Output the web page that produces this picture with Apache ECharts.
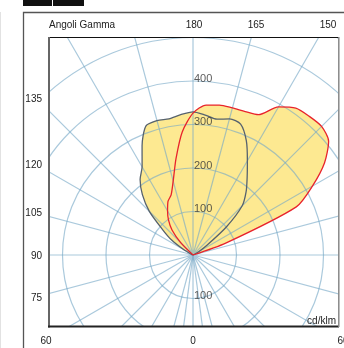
<!DOCTYPE html>
<html><head><meta charset="utf-8">
<script src="https://cdn.jsdelivr.net/npm/echarts@6/dist/echarts.min.js"></script>
<style>html,body{margin:0;padding:0;background:#fff}#c{width:344px;height:348px}</style>
</head><body><div id="c"></div>
<script>
// gamma angles (degrees from nadir)
const gammaAngles = [0,5,10,15,20,25,30,35,40,45,50,55,60,65,70,75,80,85,90,95,100,105,110,115,120,125,130,135,140,145,150,155,160,165,170,175,180];
// intensities cd/klm
const grayRight = [0,0,0,0,0,0,0,0,0,0,0,0,0,0,0,0,0,0,0,0,0,0,0,3,15,40,100,160,190,217,250,290,320,324,317,323,329];
const grayLeft  = [0,0,0,0,0,0,0,0,0,0,0,0,0,0,0,0,0,0,0,0,0,0,0,5,25,60,92,142,181,212,234,277,316,320,318,324,329];
const redRight  = [0,0,0,0,0,0,0,0,0,0,0,0,0,0,0,0,0,0,0,0,0,0,80,262,317,369,407,418,416,412,393,356,351,350,350,346,326];
const redLeft   = [0,0,0,0,0,0,0,0,0,0,0,0,0,0,0,0,0,0,0,0,0,0,0,0,0,0,0,40,75,98,117,136,147,176,225,284,326];
// axis tick labels / grid
const ringValues = [100,200,300,400];
const extraSpokes = [7.5, 352.5];
const topLabels = ['180','165','150'];
const leftLabels = ['135','120','105','90','75'];
const bottomLabels = ['60','0','60'];
const titleText = 'Angoli Gamma';
const unitText = 'cd/klm';

// layout
const CX = 193, CY = 255, R = 261;
const topX = [194, 256, 328], topY = 25;
const leftY = [99, 165, 213, 256, 298], leftX = 42;
const bottomX = [46, 193, 343], bottomY = 341;
const FONT = 'Liberation Sans, Arial, sans-serif';

function poly(right, left) {
  const pts = [];
  for (let i = 0; i < gammaAngles.length; i++) pts.push([right[i], gammaAngles[i]]);
  for (let i = gammaAngles.length - 1; i >= 0; i--) pts.push([left[i], 360 - gammaAngles[i]]);
  return pts;
}
const grayData = poly(grayRight, grayLeft);
const redData = poly(redRight, redLeft);
const ringData = ringValues.map(v => [v, 180]).concat([[100, 0]]);

const gridColor = 'rgba(118,168,198,0.62)';
const fillColor = '#fde991';

const chart = echarts.init(document.getElementById('c'), null, {renderer: 'canvas'});
const texts = [];
texts.push({type:'text', z:120, style:{text:titleText, x:49, y:topY, font:'10px '+FONT, fill:'#222', textVerticalAlign:'middle'}});
topLabels.forEach((t,i)=>texts.push({type:'text', z:120, style:{text:t, x:topX[i], y:topY, font:'10px '+FONT, fill:'#222', textAlign:'center', textVerticalAlign:'middle'}}));
leftLabels.forEach((t,i)=>texts.push({type:'text', z:120, style:{text:t, x:leftX, y:leftY[i], font:'10px '+FONT, fill:'#222', textAlign:'right', textVerticalAlign:'middle'}}));
bottomLabels.forEach((t,i)=>texts.push({type:'text', z:120, style:{text:t, x:bottomX[i], y:bottomY, font:'10px '+FONT, fill:'#222', textAlign:'center', textVerticalAlign:'middle'}}));
texts.push({type:'text', z:120, style:{text:unitText, x:336, y:321, font:'10px '+FONT, fill:'#222', textAlign:'right', textVerticalAlign:'middle'}});

const spokeSeries = extraSpokes.map(a => ({
  type:'line', coordinateSystem:'polar', data:[[0,a],[600,a]], showSymbol:false, z:3, silent:true,
  lineStyle:{color:gridColor, width:1.2}
}));

chart.setOption({
  animation: false,
  backgroundColor: '#fff',
  polar: {center: [CX, CY], radius: R},
  angleAxis: {
    type: 'value', min: 0, max: 360, interval: 15, startAngle: 270, clockwise: false, z: 3,
    axisLine: {show: false}, axisTick: {show: false}, axisLabel: {show: false},
    splitLine: {show: true, lineStyle: {color: gridColor, width: 1.2}}
  },
  radiusAxis: {
    type: 'value', min: 0, max: 600, interval: 100, z: 3,
    axisLine: {show: false}, axisTick: {show: false}, axisLabel: {show: false},
    splitLine: {show: true, lineStyle: {color: gridColor, width: 1.2}}
  },
  series: [
    {type:'line', coordinateSystem:'polar', data: grayData, showSymbol:false, smooth:0.25, z:1,
     lineStyle:{width:0, opacity:0}, areaStyle:{color:fillColor, opacity:1}},
    {type:'line', coordinateSystem:'polar', data: redData, showSymbol:false, smooth:0.25, z:1,
     lineStyle:{width:0, opacity:0}, areaStyle:{color:fillColor, opacity:1}},
    {type:'line', coordinateSystem:'polar', data: grayData, showSymbol:false, smooth:0.25, z:5,
     lineStyle:{width:1.3, color:'#56626e'}},
    {type:'line', coordinateSystem:'polar', data: redData, showSymbol:false, smooth:0.25, z:5,
     lineStyle:{width:1.3, color:'#e8232b'}},
    {type:'scatter', coordinateSystem:'polar', data: ringData, symbolSize:0, z:6,
     label:{show:true, position:[1,3], align:'left', verticalAlign:'bottom', fontSize:11, fontFamily:FONT, color:'#333',
       formatter: p => String(p.value[0])}}
  ].concat(spokeSeries),
  graphic: [
    {type:'rect', z:100, shape:{x:0,y:0,width:344,height:37.5}, style:{fill:'#fff'}},
    {type:'rect', z:100, shape:{x:0,y:0,width:49,height:348}, style:{fill:'#fff'}},
    {type:'rect', z:100, shape:{x:0,y:326,width:344,height:22}, style:{fill:'#fff'}},
    {type:'rect', z:100, shape:{x:338.5,y:0,width:6,height:348}, style:{fill:'#fff'}},
    // inner box
    {type:'line', z:110, shape:{x1:49,y1:37.5,x2:339,y2:37.5}, style:{stroke:'#111', lineWidth:1}},
    {type:'line', z:110, shape:{x1:49,y1:37,x2:49,y2:327.5}, style:{stroke:'#666', lineWidth:2}},
    {type:'line', z:110, shape:{x1:48,y1:326.5,x2:339,y2:326.5}, style:{stroke:'#222', lineWidth:2}},
    {type:'line', z:110, shape:{x1:338.8,y1:37,x2:338.8,y2:327}, style:{stroke:'#888', lineWidth:1.5}},
    // outer frame
    {type:'polyline', z:110, shape:{points:[[23.5,348],[23.5,12.5],[344,12.5]]}, style:{stroke:'#555', lineWidth:1.3, fill:null}},
    {type:'line', z:110, shape:{x1:0.5,y1:12,x2:0.5,y2:348}, style:{stroke:'#e2e2e2', lineWidth:1}},
    // tabs
    {type:'rect', z:110, shape:{x:23,y:0,width:29,height:6}, style:{fill:'#111'}},
    {type:'rect', z:110, shape:{x:53,y:0,width:31,height:6}, style:{fill:'#111'}}
  ].concat(texts)
});
</script></body></html>
